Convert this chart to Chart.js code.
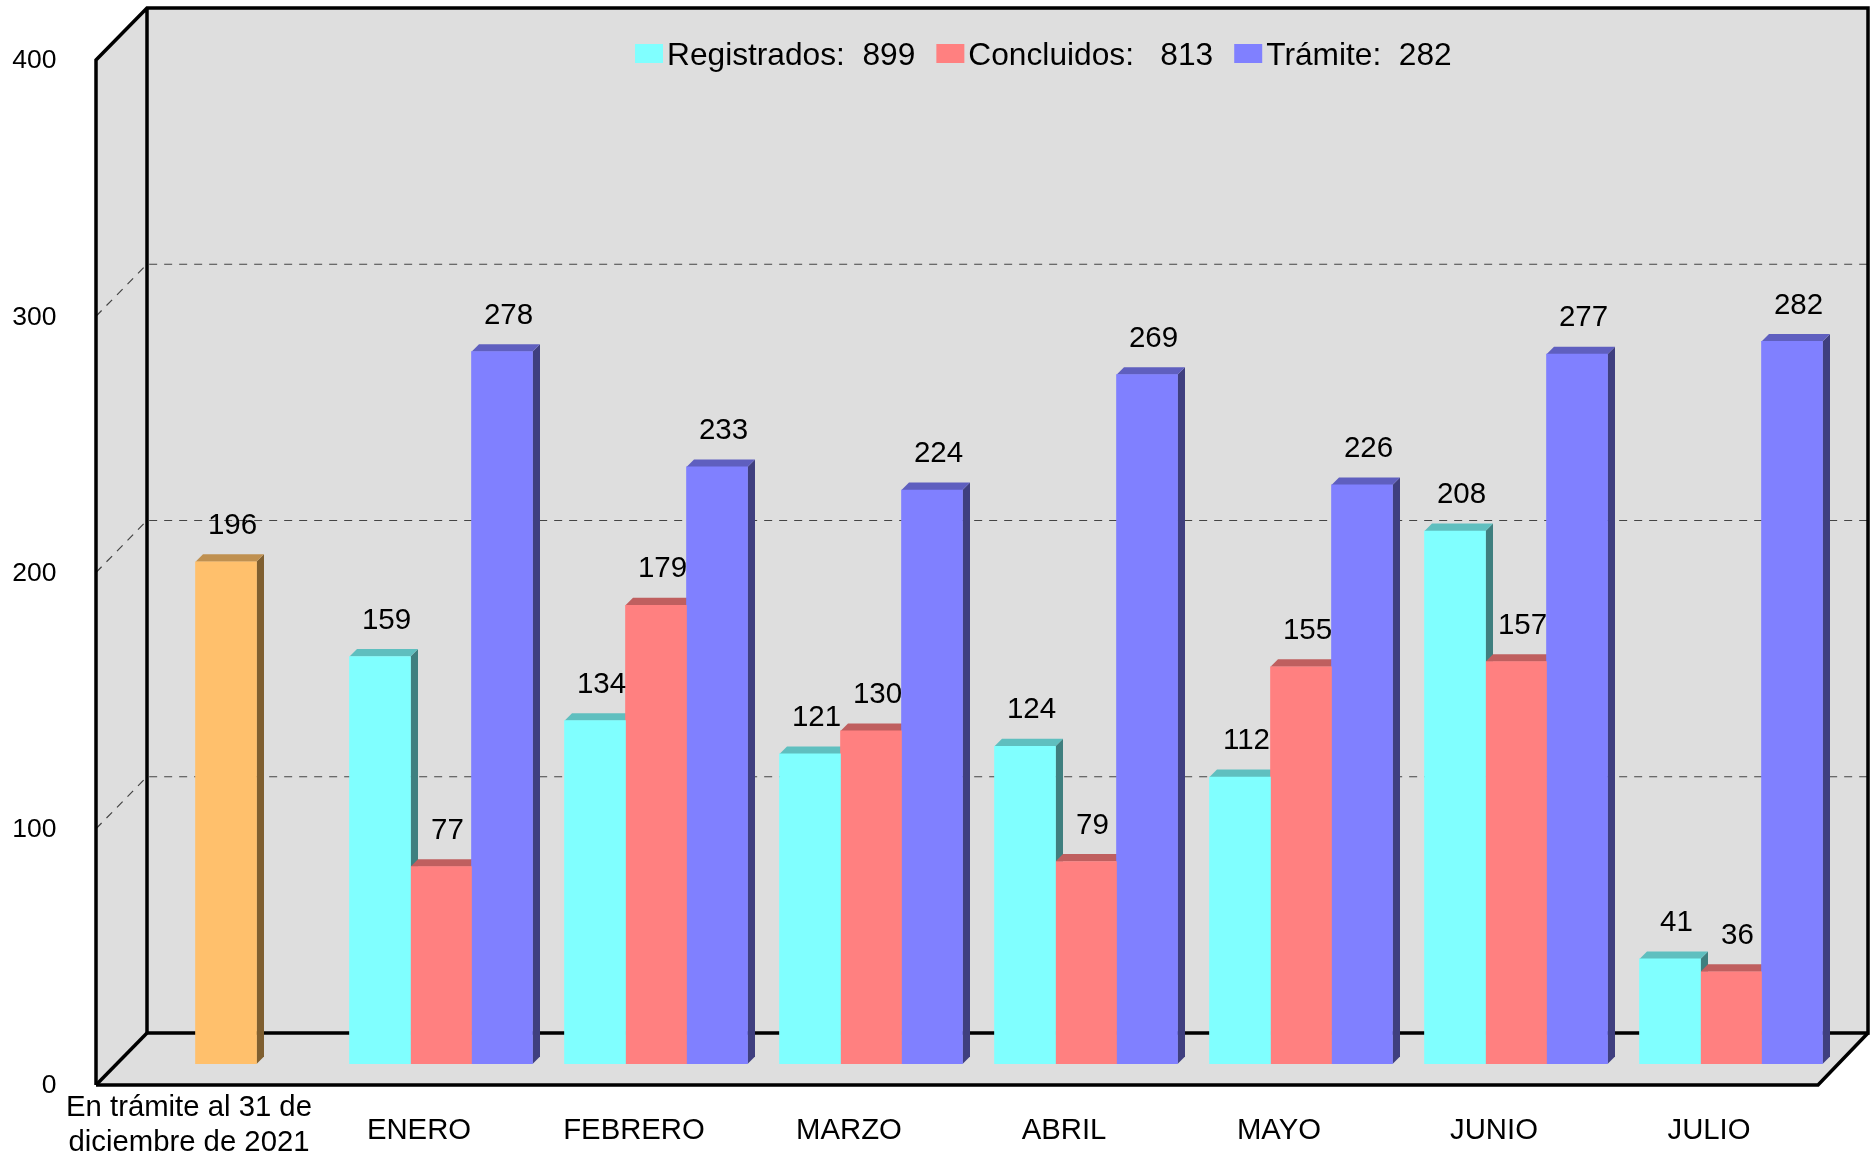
<!doctype html>
<html lang="es">
  <head>
    <meta charset="utf-8">
    <title>Registrados, concluidos y en trámite</title>
    <style>
      * {
        margin: 0;
        padding: 0;
      }
      body {
        background: white;
        overflow: hidden;
      }
      canvas {
        display: block;
      }
    </style>
  </head>
  <body>
    <canvas id="myChart" width="1875" height="1155"></canvas>
    <script src="https://cdn.jsdelivr.net/npm/chart.js/dist/chart.umd.min.js"></script>
    <script>

const firstAxisLabels = [['En trámite al 31 de', 'diciembre de 2021'], '', '', '', '', '', '', ''];
const monthLabels = ['', 'ENERO', 'FEBRERO', 'MARZO', 'ABRIL', 'MAYO', 'JUNIO', 'JULIO'];

const enTramite2021 = [196, null, null, null, null, null, null, null];
const registrados = [null, 159, 134, 121, 124, 112, 208, 41];
const concluidos = [null, 77, 179, 130, 79, 155, 157, 36];
const tramite = [null, 278, 233, 224, 269, 226, 277, 282];

const legendLabels = ['Registrados:  899', 'Concluidos:   813', 'Trámite:  282'];
const yTicks = [0, 100, 200, 300, 400];

const fontFamily = '"Liberation Sans", Arial, sans-serif';

// box around the bars, relative to the plane the bars stand on
const frontX = -22.5, backX = 28.5, frontY = 21, backY = -31;
const barDepth = 7.5;

function polygon(ctx, points, fill) {
    ctx.beginPath();
    points.forEach((p, i) => i ? ctx.lineTo(p[0], p[1]) : ctx.moveTo(p[0], p[1]));
    ctx.closePath();
    ctx.fillStyle = fill;
    ctx.fill();
}

function line(ctx, points) {
    ctx.beginPath();
    points.forEach((p, i) => i ? ctx.lineTo(p[0], p[1]) : ctx.moveTo(p[0], p[1]));
    ctx.stroke();
}

// gray walls, dashed grid and black frame
const boxPlugin = {
    id: 'box',
    afterLayout(chart) {
        // the first label sits in the same strip as the month labels
        const first = chart.scales.xFirst;
        first.top = chart.chartArea.bottom;
        first.bottom = chart.height;
    },
    beforeDatasetsDraw(chart) {
        const ctx = chart.ctx;
        const y = chart.scales.y;
        const left = chart.chartArea.left, right = chart.chartArea.right;
        const top = y.getPixelForValue(400), bottom = y.getPixelForValue(0);
        const xf = left + frontX, xb = left + backX;
        const xr = right + 29.5, xrf = right - 20.5;

        ctx.save();
        polygon(ctx, [
            [xf, top + frontY], [xb, top + backY], [xr, top + backY],
            [xr, bottom + backY], [xrf, bottom + frontY], [xf, bottom + frontY]
        ], '#DEDEDE');

        ctx.strokeStyle = '#444';
        ctx.lineWidth = 1.2;
        ctx.setLineDash([8, 7]);
        [100, 200, 300].forEach(v => {
            const py = y.getPixelForValue(v);
            line(ctx, [[xf, py + frontY], [xb, py + backY], [xr, py + backY]]);
        });
        ctx.setLineDash([]);

        ctx.strokeStyle = 'black';
        ctx.lineWidth = 3.5;
        ctx.lineJoin = 'miter';
        line(ctx, [[xf, bottom + frontY], [xf, top + frontY], [xb, top + backY], [xr, top + backY], [xr, bottom + backY], [xb, bottom + backY], [xb, top + backY]]);
        line(ctx, [[xf, bottom + frontY], [xb, bottom + backY]]);
        line(ctx, [[xf, bottom + frontY], [xrf, bottom + frontY], [xr, bottom + backY]]);
        ctx.restore();

        // side and top faces of the bars, left to right, the fronts are painted over them
        chart.data.datasets.forEach((ds, d) => {
            const meta = chart.getDatasetMeta(d);
            ds.data.forEach((v, i) => {
                if (v === null) return;
                const bar = meta.data[i];
                const x0 = bar.x - bar.width / 2, x1 = bar.x + bar.width / 2;
                polygon(ctx, [
                    [x1, bar.base], [x1 + barDepth, bar.base - barDepth],
                    [x1 + barDepth, bar.y - barDepth], [x1, bar.y]
                ], ds.sideColor);
                polygon(ctx, [
                    [x0, bar.y], [x0 + barDepth, bar.y - barDepth],
                    [x1 + barDepth, bar.y - barDepth], [x1, bar.y]
                ], ds.topColor);
            });
        });
    }
};

// value labels and legend inside the box
const textPlugin = {
    id: 'texts',
    afterDatasetsDraw(chart) {
        const ctx = chart.ctx;
        ctx.save();
        ctx.fillStyle = 'black';
        ctx.textAlign = 'center';
        ctx.textBaseline = 'middle';
        ctx.font = '29.5px ' + fontFamily;
        chart.data.datasets.forEach((ds, d) => {
            const meta = chart.getDatasetMeta(d);
            ds.data.forEach((v, i) => {
                if (v === null) return;
                const bar = meta.data[i];
                ctx.fillText(v, bar.x + 6.5, bar.y - 36);
            });
        });

        ctx.textAlign = 'left';
        ctx.font = '31.7px ' + fontFamily;
        let x = 635;
        legendLabels.forEach((text, i) => {
            ctx.fillStyle = chart.data.datasets[i + 1].backgroundColor;
            ctx.fillRect(x, 44, 28, 19);
            ctx.fillStyle = 'black';
            ctx.fillText(text, x + 32, 56);
            x += 32 + ctx.measureText(text).width + 21;
        });
        ctx.restore();
    }
};

// the big tick paddings must not push the plot area in
function clearPadding(scale) {
    scale.paddingLeft = scale.paddingRight = scale.paddingTop = scale.paddingBottom = 0;
}

new Chart(document.getElementById('myChart'), {
    type: 'bar',
    data: {
        labels: monthLabels,
        datasets: [{
            label: 'En trámite al 31 de diciembre de 2021',
            data: enTramite2021,
            backgroundColor: '#FFC06C',
            sideColor: '#7F5F30',
            topColor: '#BF9050'
        }, {
            label: 'Registrados',
            data: registrados,
            backgroundColor: '#80FFFF',
            sideColor: '#3F7F7F',
            topColor: '#5FBFBF'
        }, {
            label: 'Concluidos',
            data: concluidos,
            backgroundColor: '#FF8080',
            sideColor: '#7F3F3F',
            topColor: '#BF5F5F'
        }, {
            label: 'Trámite',
            data: tramite,
            backgroundColor: '#8080FF',
            sideColor: '#3F3F7F',
            topColor: '#5F5FBF'
        }]
    },
    options: {
        responsive: false,
        animation: false,
        datasets: {
            bar: { skipNull: true, barThickness: 61 }
        },
        layout: {
            padding: { left: 0, right: 36.5, top: 39, bottom: 0 }
        },
        plugins: {
            legend: { display: false },
            tooltip: { enabled: false }
        },
        scales: {
            x: {
                position: 'bottom',
                afterFit: scale => { clearPadding(scale); scale.height = 91; },
                grid: { display: false },
                border: { display: false },
                ticks: {
                    autoSkip: false,
                    maxRotation: 0,
                    padding: 41,
                    labelOffset: -22,
                    color: 'black',
                    font: { family: fontFamily, size: 29.3 }
                }
            },
            xFirst: {
                type: 'category',
                labels: firstAxisLabels,
                position: 'bottom',
                afterFit: scale => { clearPadding(scale); scale.height = 0; },
                grid: { display: false },
                border: { display: false },
                ticks: {
                    autoSkip: false,
                    maxRotation: 0,
                    padding: 18,
                    labelOffset: -37,
                    color: 'black',
                    font: { family: fontFamily, size: 29.3, lineHeight: 1.2 }
                }
            },
            y: {
                min: 0,
                max: 400,
                afterFit: scale => { clearPadding(scale); scale.width = 118.5; },
                afterBuildTicks: scale => { scale.ticks = yTicks.map(value => ({ value })); },
                grid: { display: false },
                border: { display: false },
                ticks: {
                    padding: 54,
                    labelOffset: 22,
                    color: 'black',
                    font: { family: fontFamily, size: 26.5 }
                }
            }
        }
    },
    plugins: [boxPlugin, textPlugin]
});

    </script>
  </body>
</html>
